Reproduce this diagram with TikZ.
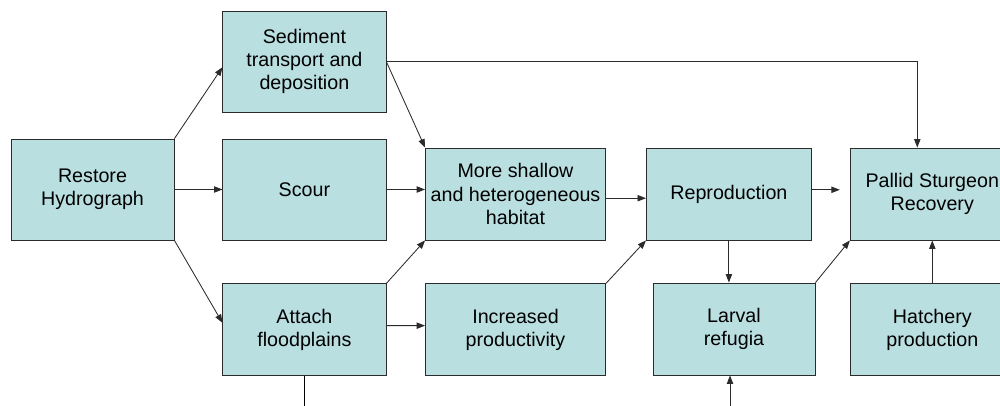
\documentclass[tikz,border=0pt]{standalone}
\usepackage{fontspec}
\setmainfont{Liberation Sans}
\usetikzlibrary{arrows.meta,positioning}

\definecolor{boxfill}{HTML}{BADFE1}
\definecolor{edge}{HTML}{2B2B2B}

\begin{document}
\begin{tikzpicture}[
    x=0.025cm, y=-0.025cm,
    font=\fontsize{14}{16.5}\selectfont,
    stage/.style={rectangle, draw=edge, fill=boxfill, line width=0.6pt, align=center,
        inner sep=0pt, minimum width=4.075cm, minimum height=2.3cm},
    tall/.style={minimum height=2.525cm},
    arrow/.style={-{Triangle[length=6pt,width=4.5pt]}, line width=0.6pt, draw=edge}
]
    \fill[white] (0,0) rectangle (1000,406);
    \clip (0,0) rectangle (1000,406);

    % first column and the restoration measures
    \node[stage, tall] (Restore) at (92.5,189.5) {Restore\\Hydrograph};
    \node[stage, tall, right=1.2cm of Restore] (Scour) {Scour};
    \node[stage, tall, above=0.65cm of Scour] (Sediment) {Sediment\\transport and\\deposition};
    \node[stage, below=1.075cm of Scour] (Attach) {Attach\\floodplains};

    % habitat and population responses
    \node[stage, minimum width=4.5cm] (Habitat) at (515.5,194) {More shallow\\and heterogeneous\\habitat};
    \node[stage, minimum width=4.5cm, below=1.075cm of Habitat] (Productivity) {Increased\\productivity};
    \node[stage, minimum width=4.125cm, right=1cm of Habitat] (Reproduction) {Reproduction};
    \node[stage, minimum width=4.05cm] (Larval) at (734,329) {Larval\\refugia};
    \node[stage, minimum width=4.1cm, right=0.95cm of Reproduction] (Recovery) {Pallid Sturgeon\\Recovery};
    \node[stage, minimum width=4.1cm, below=1.075cm of Recovery] (Hatchery) {Hatchery\\production};

    % loose ends at the bottom edge
    \coordinate (attachout) at (Attach.south |- 0,406);
    \coordinate (larvalin) at ([xshift=-0.1cm]Larval.south |- 0,406);

    \draw[arrow] (Restore.north east) -- ([yshift=-4pt]Sediment.west);
    \draw[arrow] (Restore) -- (Scour);
    \draw[arrow] (Restore.south east) -- ([yshift=5pt]Attach.west);

    \draw[arrow] (Sediment.east) -- (Habitat.north west);
    \draw[arrow] (Sediment.east) -| ([xshift=-0.375cm]Recovery.north);
    \draw[arrow] (Scour.east) -- (Scour.east -| Habitat.west);
    \draw[arrow] (Attach.north east) -- (Habitat.south west);
    \draw[arrow] ([yshift=3pt]Attach.east) -- ([yshift=3pt]Productivity.west);
    \draw (Attach.south) -- (attachout);

    \draw[arrow] ([yshift=-3pt]Habitat.east) -- ([yshift=-3pt]Reproduction.west);
    \draw[arrow] (Productivity.north east) -- (Reproduction.south west);
    \draw[arrow, shorten >=0.25cm] ([yshift=3pt]Reproduction.east) -- ([yshift=3pt]Recovery.west);
    \draw[arrow] (Reproduction.south) -- (Reproduction.south |- Larval.north);
    \draw[arrow] (larvalin) -- (larvalin |- Larval.south);
    \draw[arrow] (Larval.north east) -- (Recovery.south west);
    \draw[arrow] (Hatchery) -- (Recovery);
\end{tikzpicture}
\end{document}
